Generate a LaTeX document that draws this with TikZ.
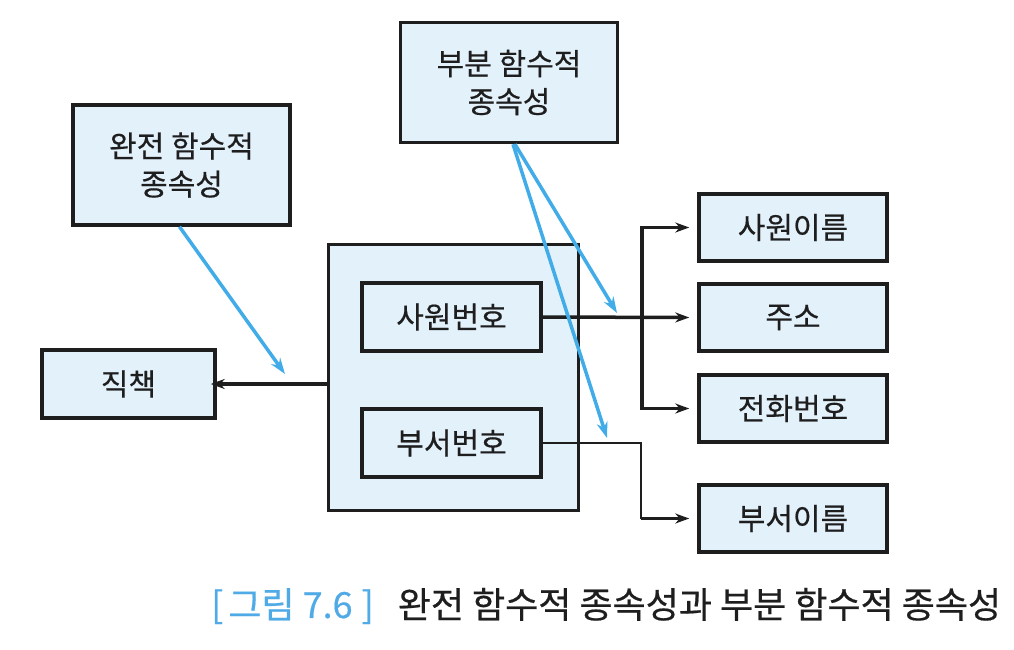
\documentclass[tikz,border=0pt]{standalone}
\usepackage{fontspec}
\newfontfamily\kr[FakeBold=0.5]{Noto Sans CJK KR}
\usetikzlibrary{arrows.meta}
\definecolor{boxfill}{RGB}{227,241,251}
\definecolor{arrblue}{RGB}{66,172,232}
\definecolor{capblue}{RGB}{80,170,230}
\definecolor{ink}{RGB}{30,30,30}
\begin{document}
\begin{tikzpicture}[x=1pt,y=-1pt,
  lbl/.style={font=\kr\fontsize{30}{38}\selectfont, text=ink},
  attr/.style={draw=ink, line width=3.5pt, fill=boxfill, inner sep=0pt, lbl},
  blk/.style={draw=ink, line width=3.5pt, -{Stealth[length=14pt,width=10pt]}},
  thin/.style={draw=ink, line width=1.5pt},
  blu/.style={draw=arrblue, line width=3.5pt, -{Stealth[length=16pt,width=11pt]}}]
\useasboundingbox (0,0) rectangle (1014,650);
% big box
\node[draw=ink, line width=3pt, fill=boxfill, minimum width=250pt, minimum height=266pt, inner sep=0pt] (big) at (453,377) {};
% boxes
\node[attr, minimum width=217pt, minimum height=120pt, align=center] (full) at (181.5,165) {완전 함수적\\종속성};
\node[attr, minimum width=217pt, minimum height=120pt, align=center] (part) at (509,82.5) {부분 함수적\\종속성};
\node[attr, minimum width=179pt, minimum height=68pt] (empno) at (451.5,317) {사원번호};
\node[attr, minimum width=179pt, minimum height=68pt] (deptno) at (451.5,443) {부서번호};
\node[attr, minimum width=173pt, minimum height=68pt] (job) at (128.5,384) {직책};
\node[attr, minimum width=188pt, minimum height=67pt] (name) at (793,227.5) {사원이름};
\node[attr, minimum width=188pt, minimum height=67pt] (addr) at (793,317.5) {주소};
\node[attr, minimum width=188pt, minimum height=67pt] (tel) at (793,408.5) {전화번호};
\node[attr, minimum width=188pt, minimum height=67pt] (dname) at (793,518.5) {부서이름};
% connectors
\coordinate (j1) at (642,317);
\draw[blk] (empno.east) -- ([xshift=-8pt]addr.west);
\draw[blk] (j1) |- ([xshift=-8pt]name.west);
\draw[blk] (j1) |- ([xshift=-8pt]tel.west);
\draw[thin] (deptno.east) -- (641,443) -- (641,518.5);
\draw[blk] (641,518.5) -- ([xshift=-8pt]dname.west);
\draw[blk] (big.west |- job.east) -- ([xshift=-6pt]job.east);
% blue
\coordinate (fe) at (285,374);
\coordinate (pe1) at (617,313);
\coordinate (pe2) at (607,438);
\draw[blu] ([xshift=-2pt]full.south) -- (fe);
\draw[blu] ([xshift=6pt]part.south) -- (pe1);
\draw[blu] ([xshift=4pt]part.south) -- (pe2);
% caption
\node[anchor=west, inner sep=0pt, font=\kr\fontsize{36}{42}\selectfont] (cap) at (211,606) {\textcolor{capblue}{[\hspace{5pt}그림 7.6\hspace{9pt}]}\hspace{24pt}\textcolor{ink}{완전 함수적 종속성과 부분 함수적 종속성}};
\end{tikzpicture}
\end{document}
